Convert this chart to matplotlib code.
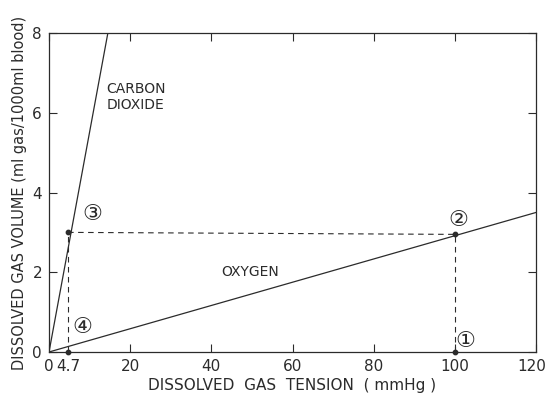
import matplotlib.pyplot as plt
from matplotlib.transforms import ScaledTranslation

# Lines of dissolved gas volume vs tension
co2_x = [0, 14.5]
co2_y = [0, 8]
o2_x = [0, 120]
o2_y = [0, 3.5]

# marked points (tension, volume)
pt_x = [100, 100, 4.7, 4.7]
pt_y = [0, 2.95, 3.0, 0]
pt_labels = ['\u2460', '\u2461', '\u2462', '\u2463']
lab_x = [100.2, 98.4, 8.2, 5.8]
lab_y = [0.27, 3.32, 3.45, 0.62]

x_ticks = [0, 4.7, 20, 40, 60, 80, 100, 120]
x_ticklabels = ['0', '4.7', '20', '40', '60', '80', '100', '120']
y_ticks = [0, 2, 4, 6, 8]

plt.rcParams['font.family'] = ['DejaVu Sans']
ink = '#2b2b2b'

fig = plt.figure(figsize=(5.47, 3.98), dpi=100)
ax = fig.add_axes([0.0896, 0.1156, 0.8904, 0.8014])

ax.plot(co2_x, co2_y, color=ink, lw=0.9)
ax.plot(o2_x, o2_y, color=ink, lw=0.9)

# dashed guides
ax.plot([pt_x[2], pt_x[1]], [pt_y[2], pt_y[1]], color=ink, lw=0.8, ls=(0, (5, 4)))
ax.plot([pt_x[0], pt_x[1]], [pt_y[0], pt_y[1]], color=ink, lw=0.8, ls=(0, (5, 4)))
ax.plot([pt_x[3], pt_x[2]], [pt_y[3], pt_y[2]], color=ink, lw=0.8, ls=(0, (5, 4)))
ax.scatter(pt_x, pt_y, s=10, color=ink, zorder=5, clip_on=False)

for lx, ly, t in zip(lab_x, lab_y, pt_labels):
    ax.text(lx, ly, t, fontsize=16, color=ink, ha='left', va='center')

ax.text(14.2, 6.4, 'CARBON\nDIOXIDE', fontsize=10, color=ink, ha='left', va='center',
        linespacing=1.2)
ax.text(42.5, 2.0, 'OXYGEN', fontsize=10, color=ink, ha='left', va='center')

ax.set_xlim(0, 120)
ax.set_ylim(0, 8)
ax.set_xticks(x_ticks)
ax.set_xticklabels(x_ticklabels)
ax.set_yticks(y_ticks)
ax.tick_params(direction='in', length=6, width=0.8, colors=ink, labelsize=11,
               top=True, right=True, labeltop=False, labelright=False, pad=5)
ax.get_xticklines()[2].set_visible(False)
ax.get_xticklines()[3].set_visible(False)
# keep the last tick label inside the figure
last = ax.get_xticklabels()[-1]
last.set_transform(last.get_transform() + ScaledTranslation(-3 / 72, 0, fig.dpi_scale_trans))
for s in ax.spines.values():
    s.set_color(ink)
    s.set_linewidth(0.9)

ax.set_xlabel('DISSOLVED  GAS  TENSION  ( mmHg )', fontsize=11, color=ink, labelpad=3)
ax.set_ylabel('DISSOLVED GAS VOLUME (ml gas/1000ml blood)', fontsize=10.5, color=ink,
              labelpad=4)

fig.savefig('out.png', dpi=100)
